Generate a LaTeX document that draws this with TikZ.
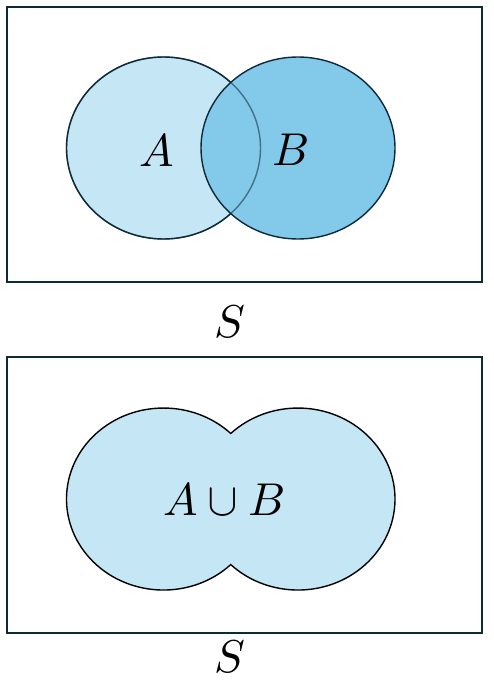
\documentclass[tikz,border=0pt]{standalone}
\usepackage{amsmath}
\usepackage{unicode-math}
\usetikzlibrary{positioning}

\definecolor{setlight}{HTML}{C5E6F5}
\definecolor{setdark}{HTML}{82C9EA}
\definecolor{edgeblue}{HTML}{0D2A3A}

\begin{document}
\begin{tikzpicture}[
  x = 1pt, y = -1pt,
  box/.style = {draw=edgeblue, line width=2pt},
  setline/.style = {draw=edgeblue, line width=1.4pt},
  lbl/.style = {font=\fontsize{46}{50}\selectfont, inner sep=0pt}
]
\useasboundingbox (0,0) rectangle (493,685);

% top: A and B
\draw[box] (7,7) rectangle (482,282);
\fill[setlight] (163.5,148) ellipse [x radius=97, y radius=91];
\draw[setline] (163.5,148) ellipse [x radius=97, y radius=91];
\fill[setdark] (298,148) ellipse [x radius=97, y radius=91];
\draw[setline, draw opacity=0.55] (163.5,148) ellipse [x radius=97, y radius=91];
\draw[setline] (298,148) ellipse [x radius=97, y radius=91];

\node[lbl] (A) at (157,150) {$A$};
\node[lbl] (B) at (291,150) {$B$};
\node[lbl] (S1) at (230,322) {$S$};

% bottom: A union B
\draw[box] (7,357) rectangle (482,633);
\draw[setline, draw=black, fill=setlight]
  (230.75,564.6) arc [start angle=46.1, end angle=313.9, x radius=97, y radius=91]
  arc [start angle=226.1, end angle=493.9, x radius=97, y radius=91] -- cycle;

\node[lbl] (AuB) at (224,499) {$A\cup B$};
\node[lbl] (S2) at (230,657) {$S$};
\end{tikzpicture}
\end{document}
